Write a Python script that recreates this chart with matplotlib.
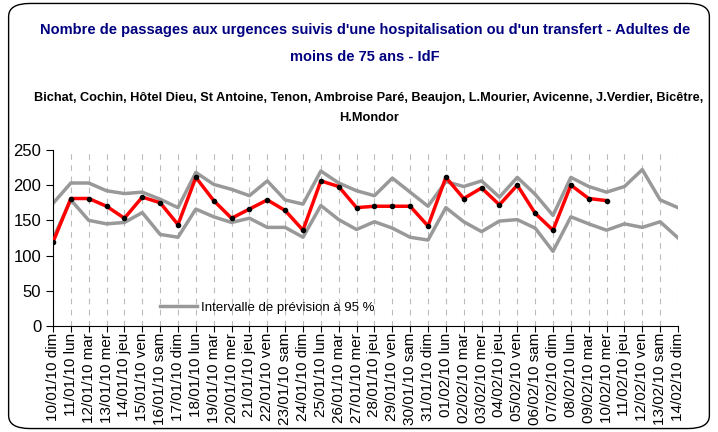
import matplotlib.pyplot as plt
from matplotlib.patches import FancyBboxPatch
from matplotlib.lines import Line2D

plt.rcParams['font.family'] = ['Liberation Sans', 'DejaVu Sans']

# dates (36 jours)
dates = ['10/01/10 dim', '11/01/10 lun', '12/01/10 mar', '13/01/10 mer', '14/01/10 jeu',
         '15/01/10 ven', '16/01/10 sam', '17/01/10 dim', '18/01/10 lun', '19/01/10 mar',
         '20/01/10 mer', '21/01/10 jeu', '22/01/10 ven', '23/01/10 sam', '24/01/10 dim',
         '25/01/10 lun', '26/01/10 mar', '27/01/10 mer', '28/01/10 jeu', '29/01/10 ven',
         '30/01/10 sam', '31/01/10 dim', '01/02/10 lun', '02/02/10 mar', '03/02/10 mer',
         '04/02/10 jeu', '05/02/10 ven', '06/02/10 sam', '07/02/10 dim', '08/02/10 lun',
         '09/02/10 mar', '10/02/10 mer', '11/02/10 jeu', '12/02/10 ven', '13/02/10 sam',
         '14/02/10 dim']

# passages observes (jusqu'au 10/02)
observed = [119, 181, 181, 170, 153, 183, 175, 144, 211, 178,
            153, 166, 179, 164, 136, 206, 198, 168, 170, 170,
            170, 142, 211, 181, 196, 172, 200, 160, 136, 200,
            181, 178]

# bornes de l'intervalle de prevision a 95 %
upper = [174, 203, 203, 192, 188, 190, 180, 168, 218, 201,
         194, 185, 206, 179, 173, 220, 203, 192, 185, 210,
         190, 170, 205, 198, 206, 183, 211, 187, 157, 211,
         198, 190, 198, 222, 179, 168]
lower = [124, 179, 150, 145, 147, 161, 130, 126, 166, 155,
         147, 153, 140, 140, 126, 171, 151, 137, 148, 139,
         126, 122, 168, 148, 134, 149, 151, 139, 106, 155,
         145, 136, 145, 140, 148, 125]

fig = plt.figure(figsize=(7.18, 4.32), dpi=100)

# cadre arrondi
frame = FancyBboxPatch((0.012, 0.008), 0.976, 0.984, boxstyle='round,pad=0,rounding_size=0.03',
                       transform=fig.transFigure, fill=False, edgecolor='black', linewidth=1.0)
fig.patches.append(frame)

fig.text(0.508, 0.93, "Nombre de passages aux urgences suivis d'une hospitalisation ou d'un transfert - Adultes de",
         ha='center', va='center', fontsize=10.5, fontweight='bold', color='#000080')
fig.text(0.508, 0.868, 'moins de 75 ans - IdF',
         ha='center', va='center', fontsize=10.5, fontweight='bold', color='#000080')
fig.text(0.514, 0.773, 'Bichat, Cochin, Hôtel Dieu, St Antoine, Tenon, Ambroise Paré, Beaujon, L.Mourier, Avicenne, J.Verdier, Bicêtre,',
         ha='center', va='center', fontsize=9.2, fontweight='bold', color='black')
fig.text(0.514, 0.726, 'H.Mondor',
         ha='center', va='center', fontsize=9.2, fontweight='bold', color='black')

ax = fig.add_axes([0.0738, 0.2454, 0.8705, 0.4076])
x = list(range(len(dates)))

for xi in x:
    ax.axvline(xi, color='#bbbbbb', linestyle=(0, (5, 5)), linewidth=0.8, zorder=0)

ax.plot(x, upper, color='#999999', linewidth=2.5, zorder=2)
ax.plot(x, lower, color='#999999', linewidth=2.5, zorder=2)
ax.plot(x[:len(observed)], observed, color='#ff0000', linewidth=2.5, zorder=3)
ax.plot(x[:len(observed)], observed, linestyle='none', marker='o', markersize=3,
        color='black', zorder=4)

ax.set_xlim(0, len(dates) - 1)
ax.set_ylim(0, 250)
ax.set_yticks([0, 50, 100, 150, 200, 250])
ax.set_xticks(x)
ax.set_xticklabels(dates, rotation=90, fontsize=11)
ax.tick_params(axis='y', labelsize=12, length=5, direction='out')
ax.tick_params(axis='x', length=4, direction='out', pad=1)
ax.spines['top'].set_visible(False)
ax.spines['right'].set_visible(False)

handle = Line2D([], [], color='#999999', linewidth=2.5)
ax.legend([handle], ['Intervalle de prévision à 95 %'], loc='lower left',
          bbox_to_anchor=(0.152, 0.0), frameon=False, fontsize=9.5,
          handlelength=2.8, handletextpad=0.3)

fig.savefig('out.png', dpi=100)
